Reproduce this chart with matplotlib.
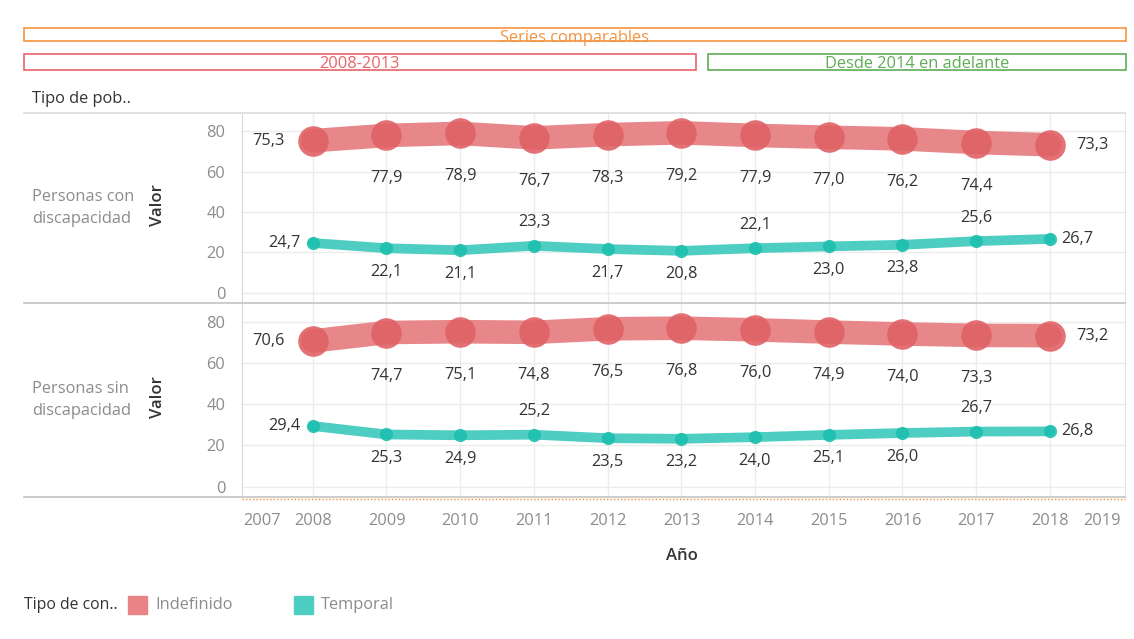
import matplotlib.pyplot as plt
from matplotlib.lines import Line2D
from matplotlib.patches import Rectangle

plt.rcParams['font.family'] = ['Open Sans', 'DejaVu Sans']

# datos
anios = [2008, 2009, 2010, 2011, 2012, 2013, 2014, 2015, 2016, 2017, 2018]
filas = ['Personas con\ndiscapacidad', 'Personas sin\ndiscapacidad']
indef_con = [75.3, 77.9, 78.9, 76.7, 78.3, 79.2, 77.9, 77.0, 76.2, 74.4, 73.3]
temp_con = [24.7, 22.1, 21.1, 23.3, 21.7, 20.8, 22.1, 23.0, 23.8, 25.6, 26.7]
indef_sin = [70.6, 74.7, 75.1, 74.8, 76.5, 76.8, 76.0, 74.9, 74.0, 73.3, 73.2]
temp_sin = [29.4, 25.3, 24.9, 25.2, 23.5, 23.2, 24.0, 25.1, 26.0, 26.7, 26.8]
# posicion de etiqueta del temporal: 1 arriba, -1 abajo
temp_pos_con = [0, -1, -1, 1, -1, -1, 1, -1, -1, 1, 0]
temp_pos_sin = [0, -1, -1, 1, -1, -1, -1, -1, -1, 1, 0]

W, H = 1134, 639
fig = plt.figure(figsize=(W / 100, H / 100), dpi=100)

def box(x0, y0, x1, y1):
    return [x0 / W, 1 - y1 / H, (x1 - x0) / W, (y1 - y0) / H]

def fx(x):
    return x / W

def fy(y):
    return 1 - y / H

rojo_l = '#e8878a'
rojo_m = '#e06266'
verde_l = '#4ecdc2'
verde_m = '#1dbfae'
gris = '#8c8c8c'
oscuro = '#333333'
fs = 11.8

def fmt(v):
    return f'{v:.1f}'.replace('.', ',')

paneles = [(113, 303, indef_con, temp_con, temp_pos_con),
           (303, 497, indef_sin, temp_sin, temp_pos_sin)]

for i, (y0, y1, ind, tem, tpos) in enumerate(paneles):
    ax = fig.add_axes(box(242, y0, 1125, y1))
    ax.set_xlim(2007.04, 2019.02)
    ax.set_ylim(-5, 89)
    ax.set_yticks([0, 20, 40, 60, 80])
    ax.set_xticks(anios)
    ax.grid(True, color='#ececec', lw=1)
    ax.set_axisbelow(True)
    for s in ax.spines.values():
        s.set_visible(False)
    ax.spines['left'].set_visible(True)
    ax.spines['left'].set_color('#d9d9d9')
    ax.spines['right'].set_visible(True)
    ax.spines['right'].set_color('#e3e3e3')
    ax.tick_params(length=0, labelsize=fs, labelcolor=gris, pad=12)
    ax.tick_params(axis='x', labelbottom=False)

    ax.plot(anios, ind, color=rojo_l, lw=17, solid_capstyle='round', zorder=2)
    ax.plot(anios, ind, 'o', color=rojo_m, ms=22, alpha=0.9, mec='none', zorder=3)
    ax.plot(anios, tem, color=verde_l, lw=7, solid_capstyle='round', zorder=2)
    ax.plot(anios, tem, 'o', color=verde_m, ms=9.5, alpha=0.9, mec='none', zorder=3)

    for k, a in enumerate(anios):
        if k == 0:
            ax.annotate(fmt(ind[k]), (a, ind[k]), xytext=(-20, 0), textcoords='offset points',
                        ha='right', va='center', fontsize=fs, color=oscuro)
            ax.annotate(fmt(tem[k]), (a, tem[k]), xytext=(-9, 0), textcoords='offset points',
                        ha='right', va='center', fontsize=fs, color=oscuro)
        elif k == len(anios) - 1:
            ax.annotate(fmt(ind[k]), (a, ind[k]), xytext=(19, 0), textcoords='offset points',
                        ha='left', va='center', fontsize=fs, color=oscuro)
            ax.annotate(fmt(tem[k]), (a, tem[k]), xytext=(8, 0), textcoords='offset points',
                        ha='left', va='center', fontsize=fs, color=oscuro)
        else:
            ax.annotate(fmt(ind[k]), (a, ind[k]), xytext=(0, -31), textcoords='offset points',
                        ha='center', va='center', fontsize=fs, color=oscuro)
            ax.annotate(fmt(tem[k]), (a, tem[k]), xytext=(0, 17 * tpos[k]), textcoords='offset points',
                        ha='center', va='center', fontsize=fs, color=oscuro)

    yc = (y0 + y1) / 2
    fig.text(fx(32), fy(yc), filas[i], ha='left', va='center', fontsize=fs,
             color=gris, linespacing=1.45)
    fig.text(fx(158), fy(yc - 3), 'Valor', ha='center', va='center', rotation=90,
             fontsize=12, color=oscuro, fontweight='semibold')

# etiquetas del eje x
for a in anios:
    fig.text(fx(313 + (a - 2008) * 73.7), fy(521), str(a), ha='center', va='center',
             fontsize=fs, color=gris)
fig.text(fx(243), fy(521), '2007', ha='left', va='center', fontsize=fs, color=gris)
fig.text(fx(1121), fy(521), '2019', ha='right', va='center', fontsize=fs, color=gris)
fig.text(fx(682), fy(556), 'Año', ha='center', va='center', fontsize=12, color=oscuro,
         fontweight='semibold')

# lineas separadoras
for y, c in [(113, '#dcdcdc'), (303, '#c4c4c4'), (497, '#c4c4c4')]:
    fig.add_artist(Line2D([fx(24), fx(1125)], [fy(y), fy(y)], color=c, lw=1.2))
fig.add_artist(Line2D([fx(242), fx(1125)], [fy(499), fy(499)], color='#f28e2b', lw=1,
                      ls=(0, (1, 1.5))))
fig.text(fx(32), fy(99), 'Tipo de pob..', ha='left', va='center', fontsize=fs, color=oscuro)

# cajas superiores
cajas = [(24, 28, 1126, 41, '#f5923e', 'Series comparables', 575, 38),
         (24, 54, 696, 70, '#e8636a', '2008-2013', 360, 64.5),
         (708, 54, 1126, 70, '#5fab56', 'Desde 2014 en adelante', 917, 64.5)]
for x0, y0, x1, y1, c, t, tx, ty in cajas:
    fig.add_artist(Rectangle((fx(x0), fy(y1)), fx(x1 - x0), (y1 - y0) / H,
                             fill=False, ec=c, lw=1.2))
    fig.text(fx(tx), fy(ty), t, ha='center', va='center', fontsize=fs, color=c)

# leyenda
fig.text(fx(24), fy(605), 'Tipo de con..', ha='left', va='center', fontsize=11.3, color=oscuro)
fig.add_artist(Rectangle((fx(128), fy(614)), fx(19), 18 / H, color='#e88386'))
fig.text(fx(155), fy(605), 'Indefinido', ha='left', va='center', fontsize=fs, color=gris)
fig.add_artist(Rectangle((fx(294), fy(614)), fx(19), 18 / H, color=verde_l))
fig.text(fx(321), fy(605), 'Temporal', ha='left', va='center', fontsize=fs, color=gris)

fig.savefig('out.png', dpi=100)
